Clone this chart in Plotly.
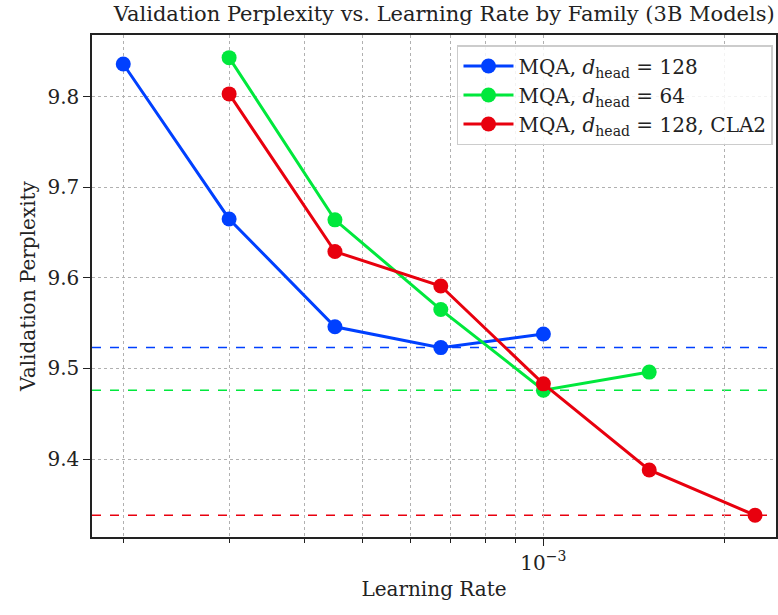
import plotly.graph_objects as go

# Data
lr_blue = [2e-4, 3e-4, 4.5e-4, 6.75e-4, 1e-3]
ppl_blue = [9.836, 9.665, 9.546, 9.523, 9.538]
lr_green = [3e-4, 4.5e-4, 6.75e-4, 1e-3, 1.5e-3]
ppl_green = [9.843, 9.664, 9.565, 9.476, 9.496]
lr_red = [3e-4, 4.5e-4, 6.75e-4, 1e-3, 1.5e-3, 2.25e-3]
ppl_red = [9.803, 9.629, 9.591, 9.483, 9.388, 9.338]

names = ["MQA, <i>d</i><sub>head</sub> = 128",
         "MQA, <i>d</i><sub>head</sub> = 64",
         "MQA, <i>d</i><sub>head</sub> = 128, CLA2"]
colors = ["#0040ff", "#00e83c", "#e8000e"]
series = [(lr_blue, ppl_blue), (lr_green, ppl_green), (lr_red, ppl_red)]

y_ticks = [9.4, 9.5, 9.6, 9.7, 9.8]
x_major = [1e-3]
x_major_text = ["10<sup>−3</sup>"]
x_minor = [2e-4, 3e-4, 4e-4, 5e-4, 6e-4, 7e-4, 8e-4, 9e-4, 2e-3]

FONT = "DejaVu Serif"

fig = go.Figure()
for (x, y), name, c in zip(series, names, colors):
    fig.add_trace(go.Scatter(x=x, y=y, mode="lines+markers", name=name,
                             line=dict(color=c, width=3),
                             marker=dict(color=c, size=15)))
    fig.add_hline(y=min(y), line=dict(color=c, width=1.5, dash="dash"), layer="below")

fig.update_layout(
    width=778, height=615,
    margin=dict(l=92, r=0, t=35, b=78),
    paper_bgcolor="white", plot_bgcolor="white",
    font=dict(family=FONT, size=18, color="#222"),
    title=dict(text="Validation Perplexity vs. Learning Rate by Family (3B Models)",
               x=0.571, xanchor="center", y=1 - 14 / 615, yanchor="middle",
               font=dict(size=21, family=FONT)),
    showlegend=True,
    legend=dict(x=0.9956, y=0.980, xanchor="right", yanchor="top",
                bgcolor="rgba(255,255,255,0.85)", bordercolor="#cccccc", borderwidth=1.5,
                font=dict(size=20, family=FONT), tracegroupgap=0, itemwidth=50),
)

fig.update_xaxes(type="log", range=[-3.751, -2.613],
                 tickmode="array", tickvals=x_major, ticktext=x_major_text,
                 ticks="outside", ticklen=7, tickwidth=1.2, tickcolor="#222",
                 showgrid=True, gridcolor="#b0b0b0", griddash="dot", gridwidth=1,
                 minor=dict(tickmode="array", tickvals=x_minor, ticks="outside",
                            ticklen=4, tickwidth=1, tickcolor="#222",
                            showgrid=True, gridcolor="#b0b0b0", griddash="dot", gridwidth=1),
                 showline=True, linecolor="#222", linewidth=1.5, mirror=True,
                 title=dict(text="Learning Rate", font=dict(size=20), standoff=8),
                 tickfont=dict(size=20), zeroline=False)
fig.update_yaxes(range=[9.314, 9.868], tickmode="array", tickvals=y_ticks,
                 ticktext=[f"{v:.1f}" for v in y_ticks],
                 ticks="outside", ticklen=7, tickwidth=1.2, tickcolor="#222",
                 showgrid=True, gridcolor="#b0b0b0", griddash="dot", gridwidth=1,
                 showline=True, linecolor="#222", linewidth=1.5, mirror=True,
                 title=dict(text="Validation Perplexity", font=dict(size=20), standoff=6),
                 tickfont=dict(size=20), zeroline=False)

fig.write_html("out.html", config={"displayModeBar": False},
               post_script="document.body.style.margin='0';")
